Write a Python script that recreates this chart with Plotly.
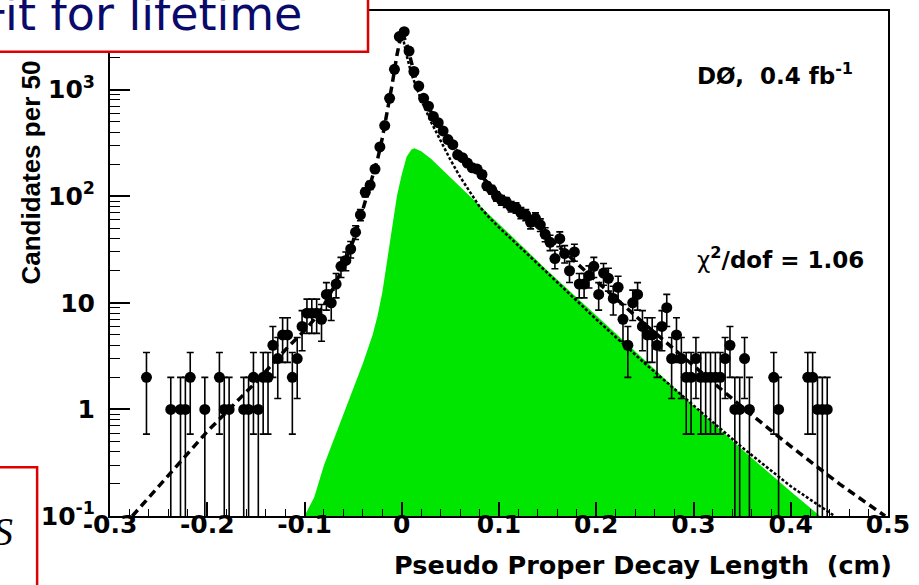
import numpy as np
import plotly.graph_objects as go

# ---------------- data ----------------
bin_x = [-0.2625, -0.2375, -0.2275, -0.2225, -0.2175, -0.2025, -0.1875, -0.1825, -0.1775,
         -0.1625, -0.1575, -0.1525, -0.1475, -0.1425, -0.1375, -0.1325, -0.1275, -0.1225,
         -0.1175, -0.1125, -0.1075, -0.1025, -0.0975, -0.0925, -0.0875, -0.0825, -0.0775,
         -0.0725, -0.0675, -0.0625, -0.0575, -0.0525, -0.0475, -0.0425, -0.0375, -0.0325,
         -0.0275, -0.0225, -0.0175, -0.0125, -0.0075, -0.0025,
         0.0025, 0.0075, 0.0125, 0.0175, 0.0225, 0.0275, 0.0325, 0.0375, 0.0425, 0.0475,
         0.0525, 0.0575, 0.0625, 0.0675, 0.0725, 0.0775, 0.0825, 0.0875, 0.0925, 0.0975,
         0.1025, 0.1075, 0.1125, 0.1175, 0.1225, 0.1275, 0.1325, 0.1375, 0.1425, 0.1475,
         0.1525, 0.1575, 0.1625, 0.1675, 0.1725, 0.1775, 0.1825, 0.1875, 0.1925, 0.1975,
         0.2025, 0.2075, 0.2125, 0.2175, 0.2225, 0.2275, 0.2325, 0.2375, 0.2425, 0.2475,
         0.2525, 0.2575, 0.2625, 0.2675, 0.2725, 0.2775, 0.2825, 0.2875, 0.2925, 0.2975,
         0.3025, 0.3075, 0.3125, 0.3175, 0.3225, 0.3275, 0.3325, 0.3375, 0.3425, 0.3475,
         0.3525, 0.3575, 0.3825, 0.3875, 0.4175, 0.4225, 0.4275, 0.4325, 0.4375]
counts = [2, 1, 1, 1, 2, 1, 2, 1, 1,
          1, 1, 2, 1, 2, 2, 4, 3, 5,
          5, 2, 3, 6, 8, 8, 8, 7, 12,
          10, 15, 22, 25, 32, 46, 67, 109, 127,
          180, 290, 460, 830, 1550, 3150,
          3500, 2300, 1480, 1080, 830, 700, 560, 490, 410, 340,
          305, 245, 230, 205, 185, 180, 160, 125, 115, 100,
          92, 88, 80, 78, 70, 67, 57, 62, 54, 44,
          37, 26, 40, 29, 20, 30, 15, 15, 18, 22,
          12, 19, 17, 11, 14, 7, 4, 10, 12, 6,
          5, 5, 4, 6, 9, 3, 5, 3, 2, 2,
          3, 2, 2, 2, 2, 2, 3, 4, 1, 1,
          3, 1, 2, 1, 2, 2, 1, 1, 1]

# total fit (dashed)
fit_x = [-0.277, -0.25, -0.2, -0.15, -0.12, -0.1, -0.09, -0.08, -0.07, -0.06, -0.05, -0.04,
         -0.03, -0.025, -0.02, -0.015, -0.01, -0.005, 0.0, 0.005, 0.01, 0.015, 0.02, 0.03,
         0.04, 0.05, 0.06, 0.08, 0.1, 0.12, 0.15, 0.2, 0.25, 0.3, 0.35, 0.4, 0.45, 0.497]
fit_y = [0.1, 0.19, 0.62, 1.8, 3.6, 5.5, 7, 9.5, 14, 22, 38, 75,
         150, 220, 350, 600, 1100, 2100, 3500, 2700, 1800, 1200, 900, 620,
         430, 320, 240, 160, 105, 75, 42, 16, 6.3, 2.6, 1.05, 0.45, 0.2, 0.1]

# dotted component
dot_x = [0.0, 0.005, 0.01, 0.02, 0.03, 0.04, 0.05, 0.06, 0.07, 0.08, 0.09, 0.1,
         0.15, 0.2, 0.25, 0.3, 0.35, 0.4, 0.445]
dot_y = [3500, 2100, 1400, 800, 500, 330, 220, 152, 109, 80, 63, 51,
         19, 7.0, 2.7, 1.08, 0.44, 0.19, 0.1]

# signal (green)
sig_x = [-0.1, -0.09, -0.08, -0.07, -0.06, -0.05, -0.04, -0.03, -0.025, -0.02, -0.015,
         -0.01, -0.005, 0.0, 0.005, 0.01, 0.013, 0.02, 0.03, 0.045, 0.06, 0.08, 0.1,
         0.15, 0.2, 0.25, 0.3, 0.35, 0.4, 0.43]
sig_y = [0.1, 0.15, 0.3, 0.52, 0.9, 1.5, 2.7, 5.0, 7.5, 12.5, 25,
         50, 100, 160, 235, 275, 282, 265, 225, 166, 122, 82, 55,
         20, 7.6, 2.9, 1.08, 0.42, 0.17, 0.1]

x_tick_vals = [-0.3, -0.2, -0.1, 0.0, 0.1, 0.2, 0.3, 0.4, 0.5]
x_tick_text = ["-0.3", "-0.2", "-0.1", "0", "0.1", "0.2", "0.3", "0.4", "0.5"]
y_tick_vals = [0.1, 1, 10, 100, 1000]
y_tick_text = ["10<sup>-1</sup>", "1", "10", "10<sup>2</sup>", "10<sup>3</sup>"]

# ---------------- layout geometry ----------------
W, H = 919, 585
L, R, T, B = 110, 19, 9, 69


def px(xp):
    return (xp - L) / (W - L - R)


def py(yp):
    return (H - B - yp) / (H - T - B)


c = np.array(counts, dtype=float)
err_plus = np.sqrt(c)
err_minus = np.minimum(np.sqrt(c), c * 0.999)

fig = go.Figure()
fig.add_trace(go.Scatter(x=sig_x, y=sig_y, mode="lines", fill="toself",
                         fillcolor="#00e600", line=dict(width=0, color="#00e600"),
                         hoverinfo="skip"))
fig.add_trace(go.Scatter(x=dot_x, y=dot_y, mode="lines",
                         line=dict(color="black", width=2.5, dash="3px,2px")))
fig.add_trace(go.Scatter(x=fit_x, y=fit_y, mode="lines",
                         line=dict(color="black", width=3.5, dash="8px,5px")))
fig.add_trace(go.Scatter(x=bin_x, y=counts, mode="markers",
                         marker=dict(color="black", size=11),
                         error_y=dict(type="data", array=err_plus, arrayminus=err_minus,
                                      color="black", thickness=1.6, width=3.5)))

tickfont = dict(family="DejaVu Sans", size=25, color="black", weight="bold")

fig.update_layout(
    width=W, height=H,
    margin=dict(l=L, r=R, t=T, b=B),
    paper_bgcolor="white", plot_bgcolor="white",
    showlegend=False,
    font=dict(family="DejaVu Sans", color="black"),
)
fig.update_xaxes(
    range=[-0.3, 0.5], tickmode="array", tickvals=x_tick_vals, ticktext=x_tick_text,
    ticks="inside", ticklen=14, tickwidth=1.5, tickcolor="black",
    showline=True, linecolor="black", linewidth=2, mirror=True,
    showgrid=False, zeroline=False, tickfont=tickfont, ticklabelstandoff=-15,
    ticklabeloverflow="allow",
    minor=dict(ticks="inside", ticklen=7, tickmode="linear", tick0=0, dtick=0.02,
               tickcolor="black", tickwidth=1, showgrid=False),
)
fig.update_yaxes(
    type="log", range=[-1, 3.738], tickmode="array", tickvals=y_tick_vals,
    ticktext=y_tick_text,
    ticks="inside", ticklen=20, tickwidth=1.5, tickcolor="black",
    showline=True, linecolor="black", linewidth=2, mirror=True,
    showgrid=False, zeroline=False, tickfont=tickfont, ticklabelstandoff=8,
    ticklabeloverflow="allow",
    minor=dict(ticks="inside", ticklen=10, dtick="D1", tickcolor="black",
               tickwidth=1, showgrid=False),
)

# boxes from the slide
fig.add_shape(type="rect", xref="paper", yref="paper",
              x0=px(-10), x1=px(372), y0=py(50), y1=py(-10),
              line=dict(color="#dd0000", width=2.5), fillcolor="white", layer="above")
fig.add_shape(type="rect", xref="paper", yref="paper",
              x0=px(-10), x1=px(36), y0=py(467), y1=py(600),
              line=dict(color="#dd0000", width=2.5), fillcolor="white", layer="above")

bold = dict(family="DejaVu Sans", size=23, color="black", weight="bold")
fig.add_annotation(xref="paper", yref="paper", x=px(704), y=py(72), xanchor="left",
                   yanchor="middle", showarrow=False, font=bold,
                   text="DØ,\u00a0\u00a00.4 fb<sup>-1</sup>")
fig.add_annotation(xref="paper", yref="paper", x=px(704), y=py(257), xanchor="left",
                   yanchor="middle", showarrow=False,
                   font=dict(family="DejaVu Sans", size=23, color="black"),
                   text="χ<b><sup>2</sup>/dof = 1.06</b>")
fig.add_annotation(xref="paper", yref="paper", x=px(906), y=py(565), xanchor="right",
                   yanchor="middle", showarrow=False,
                   font=dict(family="DejaVu Sans", size=25.5, color="black", weight="bold"),
                   text="Pseudo Proper Decay Length\u00a0\u00a0(cm)")
fig.add_annotation(xref="paper", yref="paper", x=px(30), y=py(171), xanchor="center",
                   yanchor="middle", showarrow=False, textangle=-90,
                   font=dict(family="Liberation Sans", size=26, color="black", weight="bold"),
                   text="Candidates per 50")
fig.add_annotation(xref="paper", yref="paper", x=px(307), y=py(12), xanchor="right",
                   yanchor="middle", showarrow=False,
                   font=dict(family="DejaVu Sans", size=46, color="#0a0a6a"),
                   text="Fit for lifetime")
fig.add_annotation(xref="paper", yref="paper", x=px(14), y=py(532), xanchor="right",
                   yanchor="middle", showarrow=False,
                   font=dict(family="Liberation Serif", size=40, color="black", style="italic"),
                   text="S")

fig.write_html("out.html")
